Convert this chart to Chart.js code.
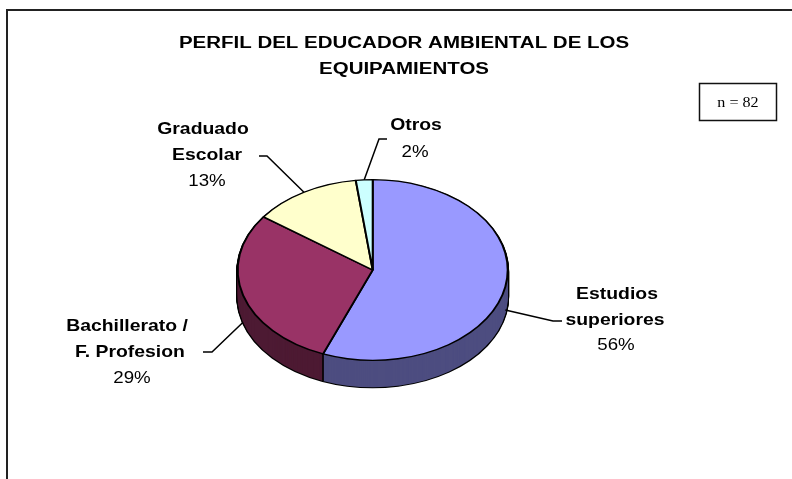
<!DOCTYPE html>
<html>
<head>
<meta charset="utf-8">
<title>Perfil del educador ambiental</title>
<script src="https://cdn.jsdelivr.net/npm/chart.js@4"></script>
<style>
  html, body { margin: 0; padding: 0; background: #fff; }
  #wrap { position: relative; width: 792px; height: 479px; overflow: hidden; }
  #myChart { display: block; }
</style>
</head>
<body>
<div id="wrap"><canvas id="myChart" width="792" height="479"></canvas></div>
<script>
// data
const categories = ['Estudios superiores', 'Bachillerato / F. Profesion', 'Graduado Escolar', 'Otros'];
const shares = [56, 29, 13, 2];
const titleLines = ['PERFIL DEL EDUCADOR AMBIENTAL DE LOS', 'EQUIPAMIENTOS'];
const sampleNote = 'n = 82';

const topColors = ['#9999FF', '#993366', '#FFFFCC', '#CCFFFF'];
const sideColors = ['#4D4D80', '#4D1A33', '#808066', '#668080'];

// pie is squashed from a circle into the tilted ellipse
const squash = 91 / 136;
const depth = 27;

// where each label sits, lines as they wrap in the picture
const labelLayout = [
  { lines: [['Estudios', 617, 294], ['superiores', 615, 320]], pct: [616, 345], elbow: [[553, 321], [562, 321]], drop: 23 },
  { lines: [['Bachillerato /', 127, 326], ['F. Profesion', 130, 352]], pct: [132, 378], elbow: [[212, 352], [203, 352]], drop: 27 },
  { lines: [['Graduado', 203, 129], ['Escolar', 207, 155]], pct: [207, 181], elbow: [[267, 156], [259, 156]], drop: 0 },
  { lines: [['Otros', 416, 125]], pct: [415, 152], elbow: [[379, 139], [387, 139]], drop: 0 }
];

function drawArcWith(arc, ctx, overrides) {
  const saved = arc.options;
  arc.options = Object.assign(Object.create(saved), overrides);
  arc.draw(ctx);
  arc.options = saved;
}

// the text in the picture is wider than the font, so stretch it sideways
function wideText(ctx, text, x, y, stretch) {
  ctx.save();
  ctx.translate(x, y);
  ctx.scale(stretch, 1);
  ctx.fillText(text, 0, 0);
  ctx.restore();
}

const pie3d = {
  id: 'pie3d',
  beforeDatasetsDraw(chart) {
    const ctx = chart.ctx;
    const arcs = chart.getDatasetMeta(0).data;
    const cy = arcs[0].y;
    const squashAt = (dy) => {
      ctx.setTransform(1, 0, 0, squash, 0, cy * (1 - squash) + dy);
    };
    ctx.save();
    // black silhouette first, then the dark side on top of it
    for (let dy = depth; dy >= 1; dy--) {
      squashAt(dy);
      arcs.forEach((arc) => drawArcWith(arc, ctx, { borderColor: '#000', borderWidth: 3 }));
    }
    for (let dy = depth; dy >= 0; dy--) {
      squashAt(dy);
      arcs.forEach((arc, i) => drawArcWith(arc, ctx, {
        backgroundColor: sideColors[i], borderColor: sideColors[i], borderWidth: 0
      }));
    }
    // seams where a slice boundary passes in front
    ctx.setTransform(1, 0, 0, 1, 0, 0);
    ctx.strokeStyle = '#000';
    ctx.lineWidth = 1.6;
    arcs.forEach((arc) => {
      if (Math.sin(arc.endAngle) <= 0) return;
      const x = arc.x + arc.outerRadius * Math.cos(arc.endAngle);
      const y = cy + arc.outerRadius * squash * Math.sin(arc.endAngle);
      ctx.beginPath();
      ctx.moveTo(x, y);
      ctx.lineTo(x, y + depth);
      ctx.stroke();
    });
    squashAt(0);
  },
  afterDatasetsDraw(chart) {
    chart.ctx.restore();
  },
  afterDraw(chart) {
    const ctx = chart.ctx;
    const arcs = chart.getDatasetMeta(0).data;
    ctx.save();

    // outer frame, only top and left show
    ctx.strokeStyle = '#222';
    ctx.lineWidth = 2;
    ctx.beginPath();
    ctx.moveTo(7, 479);
    ctx.lineTo(7, 10);
    ctx.lineTo(792, 10);
    ctx.stroke();

    ctx.textAlign = 'center';
    ctx.textBaseline = 'middle';
    ctx.fillStyle = '#000';

    ctx.font = 'bold 16px "Liberation Sans"';
    wideText(ctx, titleLines[0], 404, 44, 1.28);
    wideText(ctx, titleLines[1], 404, 70, 1.28);

    // n box
    ctx.fillStyle = '#fff';
    ctx.fillRect(699.5, 83.5, 77, 37);
    ctx.strokeStyle = '#111';
    ctx.lineWidth = 1.5;
    ctx.strokeRect(699.5, 83.5, 77, 37);
    ctx.fillStyle = '#000';
    ctx.font = '14px "Liberation Serif"';
    wideText(ctx, sampleNote, 738, 103, 1.15);

    // labels and leader lines
    ctx.strokeStyle = '#000';
    ctx.lineWidth = 1.5;
    arcs.forEach((arc, i) => {
      const spot = labelLayout[i];
      const mid = (arc.startAngle + arc.endAngle) / 2;
      const rimX = arc.x + arc.outerRadius * Math.cos(mid);
      const rimY = arc.y + arc.outerRadius * squash * Math.sin(mid) + spot.drop;
      ctx.beginPath();
      ctx.moveTo(rimX, rimY);
      spot.elbow.forEach((p) => ctx.lineTo(p[0], p[1]));
      ctx.stroke();

      ctx.font = 'bold 17px "Liberation Sans"';
      spot.lines.forEach((l) => wideText(ctx, l[0], l[1], l[2], 1.14));
      ctx.font = '17px "Liberation Sans"';
      wideText(ctx, shares[i] + '%', spot.pct[0], spot.pct[1], 1.1);
    });
    ctx.restore();
  }
};

new Chart(document.getElementById('myChart'), {
  type: 'pie',
  data: {
    labels: categories,
    datasets: [{
      data: shares,
      backgroundColor: topColors,
      borderColor: '#000',
      borderWidth: 2,
      clip: false
    }]
  },
  options: {
    responsive: false,
    animation: false,
    layout: { padding: { left: 236.7, right: 283.3, top: 134, bottom: 73 } },
    plugins: {
      legend: { display: false },
      tooltip: { enabled: false },
      title: { display: false }
    }
  },
  plugins: [pie3d]
});
</script>
</body>
</html>
